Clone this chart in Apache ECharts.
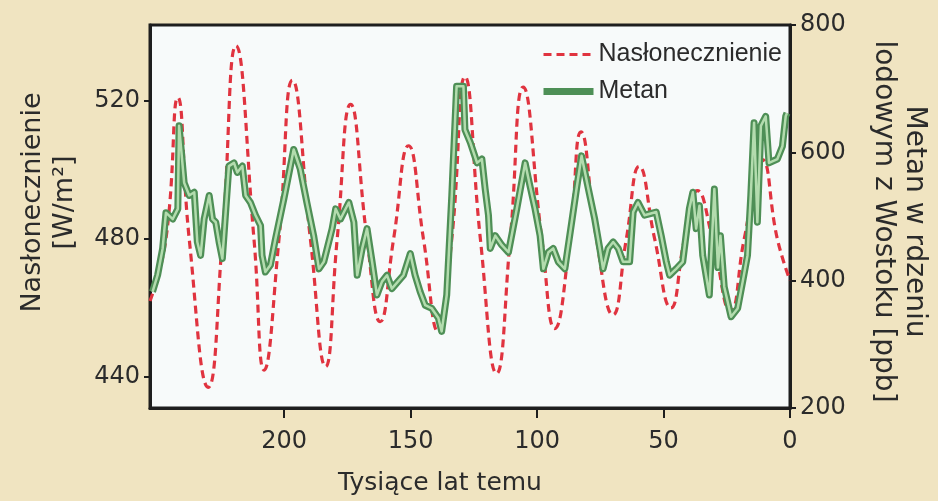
<!DOCTYPE html>
<html>
<head>
<meta charset="utf-8">
<script src="https://cdn.jsdelivr.net/npm/echarts@6/dist/echarts.min.js"></script>
<style>
  html, body { margin: 0; padding: 0; background: #f0e4c1; }
  #main { width: 938px; height: 501px; }
</style>
</head>
<body>
<div id="main"></div>
<script>
// Nasłonecznienie (W/m2), tysiące lat temu
var insolKa = [253, 246.7, 242, 237.5, 230, 224.4, 219, 211.9, 207.9, 202, 196.7, 189.6, 183.6, 179, 173.7, 167.2, 162, 156.7, 150.8, 144.9, 139, 133.7, 128.5, 122.4, 116, 110.6, 105.5, 98.1, 93, 87, 82.6, 76.5, 70, 64.7, 59.6, 53.5, 47.1, 41.7, 36.6, 30.6, 23.5, 18.1, 11, 5, 0]
var insolVal = [462, 480, 521, 480, 437, 480, 536, 480, 442, 480, 526, 480, 443, 480, 519, 480, 456, 480, 507, 480, 453, 480, 527, 480, 441, 480, 524, 480, 454, 480, 511, 480, 458, 480, 501, 480, 460, 480, 494, 480, 459, 480, 503, 480, 468]

// Metan (ppb), rdzeń z Wostoku
var metanKa = [252, 250, 248, 246.7, 244, 242, 241.5, 239.5, 237.5, 235.5, 234.3, 233, 231.6, 229.6, 228.3, 227, 225.7, 224.4, 223, 221.8, 219.8, 218.5, 216.5, 215.2, 213.3, 211.3, 209.3, 208.7, 207.4, 205.4, 203.4, 200.1, 196.2, 193.6, 191, 188.3, 186.2, 184.3, 181, 179.6, 177.7, 174.4, 172.4, 171.1, 169.1, 167.2, 165.2, 163.3, 161.3, 159.3, 157.4, 152.8, 150.1, 148.2, 146.2, 144.2, 141.6, 139, 137.7, 135.7, 133.7, 131.8, 129.1, 128.5, 126.4, 123.7, 121.8, 120.5, 119.2, 118.5, 116.5, 113.9, 111.3, 108, 104.7, 102.8, 100.8, 98.8, 97.5, 95.5, 93.6, 91.6, 89, 86.3, 84.4, 82.4, 79.7, 77.2, 75.2, 73.9, 71.9, 69.9, 67.9, 66, 63.4, 62, 60.1, 57.5, 52.9, 50.9, 48.9, 47.6, 45, 42.4, 39.8, 38.4, 37.1, 35.8, 34.5, 31.9, 29.9, 28.5, 27.5, 26, 23.3, 20.7, 18.7, 16.8, 15.5, 14.2, 12.9, 11.5, 9.6, 8.3, 5, 3, 1.7, 1.2]
var metanVal = [382, 408, 450, 506, 496, 512, 642, 553, 533, 538, 460, 439, 496, 533, 496, 491, 460, 434, 512, 579, 584, 569, 579, 533, 522, 502, 486, 439, 413, 424, 465, 527, 605, 574, 522, 470, 418, 429, 481, 512, 496, 522, 491, 408, 450, 481, 429, 377, 398, 408, 387, 408, 442, 408, 382, 361, 356, 341, 320, 377, 533, 704, 704, 636, 616, 584, 590, 543, 502, 450, 470, 455, 444, 512, 584, 548, 512, 470, 418, 444, 450, 429, 418, 491, 543, 595, 543, 496, 450, 418, 450, 460, 450, 429, 429, 507, 522, 502, 507, 470, 429, 408, 418, 429, 512, 538, 481, 517, 439, 377, 543, 420, 470, 390, 343, 356, 398, 439, 533, 647, 491, 642, 657, 584, 590, 610, 657, 662]

var xTicks = [0, 50, 100, 150, 200]
var leftTicks = [440, 480, 520]
var rightTicks = [200, 400, 600, 800]

var insolData = insolKa.map(function (k, i) { return [k, insolVal[i]] })
var metanData = metanKa.map(function (k, i) { return [k, metanVal[i]] })

var chartDom = document.getElementById("main")
var myChart = echarts.init(chartDom)
var option
var ink = "#2b2b2b"
var axisFont = "DejaVu Sans"

option = {
  backgroundColor: "#f0e4c1",
  animation: false,
  grid: {
    left: 150,
    right: 145,
    top: 25,
    bottom: 93,
    show: true,
    backgroundColor: "#f7fafa",
    borderColor: "#1e1e1e",
    borderWidth: 3
  },
  legend: {
    data: [
      { name: "Nasłonecznienie", lineStyle: { width: 3 } },
      { name: "Metan", lineStyle: { width: 7 } }
    ],
    orient: "vertical",
    left: 535,
    top: 37,
    itemWidth: 50,
    itemHeight: 14,
    itemGap: 12,
    itemStyle: { opacity: 0 },
    textStyle: { fontFamily: "Liberation Sans", fontSize: 25, color: ink }
  },
  xAxis: {
    type: "value",
    inverse: true,
    min: 0,
    max: 253,
    name: "Tysiące lat temu",
    nameLocation: "middle",
    nameGap: 63,
    nameTextStyle: { fontFamily: axisFont, fontSize: 25, color: ink, padding: [0, 60, 0, 0] },
    axisLine: { onZero: false, lineStyle: { color: "#1e1e1e", width: 3 } },
    axisTick: { customValues: xTicks, length: 10, lineStyle: { width: 2, color: "#1e1e1e" } },
    axisLabel: { customValues: xTicks, margin: 22, fontFamily: axisFont, fontSize: 24, color: ink },
    splitLine: { show: false }
  },
  yAxis: [
    {
      type: "value",
      position: "left",
      min: 431,
      max: 542,
      name: "Nasłonecznienie\n[W/m²]",
      nameLocation: "middle",
      nameGap: 69,
      nameTextStyle: { fontFamily: axisFont, fontSize: 27, color: ink, lineHeight: 32, padding: [0, 0, 0, 28] },
      axisLine: { show: true, onZero: false, lineStyle: { color: "#1e1e1e", width: 3 } },
      axisTick: { show: true, customValues: leftTicks, length: 6, lineStyle: { width: 2, color: "#1e1e1e" } },
      axisLabel: { customValues: leftTicks, margin: 10, fontFamily: axisFont, fontSize: 24, color: ink },
      splitLine: { show: false }
    },
    {
      type: "value",
      position: "right",
      min: 200,
      max: 800,
      interval: 200,
      name: "Metan w rdzeniu\nlodowym z Wostoku [ppb]",
      nameLocation: "middle",
      nameRotate: -90,
      nameGap: 78,
      nameTextStyle: { fontFamily: axisFont, fontSize: 28, color: ink, lineHeight: 31, padding: [0, 0, 0, 10] },
      axisLine: { show: true, onZero: false, lineStyle: { color: "#1e1e1e", width: 3 } },
      axisTick: { show: true, customValues: rightTicks, length: 6, lineStyle: { width: 2, color: "#1e1e1e" } },
      axisLabel: { customValues: rightTicks, margin: 10, fontFamily: axisFont, fontSize: 24, color: ink },
      splitLine: { show: false }
    }
  ],
  series: [
    {
      name: "Nasłonecznienie",
      type: "line",
      yAxisIndex: 0,
      data: insolData,
      smooth: 0.5,
      symbol: "none",
      itemStyle: { color: "#e0333f" },
      lineStyle: { color: "#e0333f", width: 3.2, type: [8, 5] },
      z: 2
    },
    {
      name: "Metan",
      type: "line",
      yAxisIndex: 1,
      data: metanData,
      symbol: "none",
      itemStyle: { color: "#4e8f56" },
      lineStyle: { color: "#4e8f56", width: 7, join: "round" },
      z: 3
    },
    {
      name: "Metan-środek",
      type: "line",
      yAxisIndex: 1,
      data: metanData,
      symbol: "none",
      silent: true,
      itemStyle: { color: "#b3dcae" },
      lineStyle: { color: "#b3dcae", width: 2.5, join: "round" },
      z: 4
    }
  ]
}

option && myChart.setOption(option)
</script>
</body>
</html>
